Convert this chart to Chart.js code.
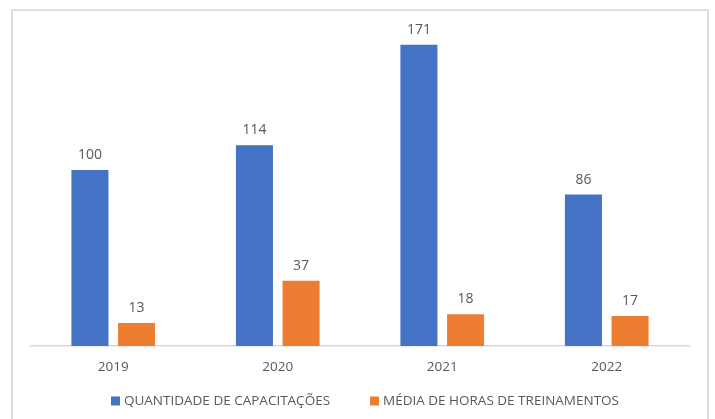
<!DOCTYPE html>
<html><head><meta charset="utf-8">
<script src="https://cdn.jsdelivr.net/npm/chart.js@4.4.1/dist/chart.umd.min.js"></script>
<style>
html,body{margin:0;padding:0;background:#fff;overflow:hidden}
#wrap{position:relative;width:715px;height:419px;overflow:hidden}
#frame{position:absolute;left:11px;top:9px;width:694px;height:440px;border:2px solid #dedede;pointer-events:none}
canvas{position:absolute;left:0;top:0}
</style></head>
<body><div id="wrap"><canvas id="c" width="715" height="419"></canvas><div id="frame"></div></div>
<script>
const categories = ['2019', '2020', '2021', '2022'];
const seriesNames = ['QUANTIDADE DE CAPACITAÇÕES', 'MÉDIA DE HORAS DE TREINAMENTOS'];
const capacitacoes = [100, 114, 171, 86];
const mediaHoras = [13, 37, 18, 17];
const seriesColors = ['#4472C4', '#ED7D31'];

const FONT = '"Open Sans", "Liberation Sans", sans-serif';
const TEXT = '#595959';

const valueLabels = {
  id: 'valueLabels',
  afterDatasetsDraw(chart) {
    const ctx = chart.ctx;
    ctx.save();
    ctx.font = '14px ' + FONT;
    ctx.fillStyle = TEXT;
    ctx.textAlign = 'center';
    ctx.textBaseline = 'alphabetic';
    chart.data.datasets.forEach((ds, i) => {
      chart.getDatasetMeta(i).data.forEach((bar, j) => {
        ctx.fillText(String(ds.data[j]), bar.x, bar.y - 11);
      });
    });
    ctx.restore();
  }
};

const bottomLegend = {
  id: 'bottomLegend',
  afterDraw(chart) {
    const ctx = chart.ctx;
    ctx.save();
    ctx.font = '13.5px ' + FONT;
    const box = 9, gap = 4, itemGap = 40;
    const ds = chart.data.datasets;
    const widths = ds.map(d => ctx.measureText(d.label).width);
    let total = widths.reduce((a, w) => a + box + gap + w, 0) + itemGap * (ds.length - 1);
    let x = 365 - total / 2;
    const y = 401;
    ctx.textBaseline = 'middle';
    ctx.textAlign = 'left';
    ds.forEach((d, i) => {
      ctx.fillStyle = d.backgroundColor;
      ctx.fillRect(x, y - 4.5, box, box);
      ctx.fillStyle = TEXT;
      ctx.fillText(d.label, x + box + gap, y + 0.5);
      x += box + gap + widths[i] + itemGap;
    });
    ctx.restore();
  }
};

new Chart(document.getElementById('c'), {
  type: 'bar',
  data: {
    labels: categories,
    datasets: [
      { label: seriesNames[0], data: capacitacoes, backgroundColor: seriesColors[0], borderWidth: 0,
        categoryPercentage: 0.567, barPercentage: 0.794 },
      { label: seriesNames[1], data: mediaHoras, backgroundColor: seriesColors[1], borderWidth: 0,
        categoryPercentage: 0.567, barPercentage: 0.794 }
    ]
  },
  options: {
    responsive: false,
    animation: false,
    devicePixelRatio: 1,
    layout: { padding: { top: 29, left: 31, right: 26, bottom: 36 } },
    plugins: { legend: { display: false }, tooltip: { enabled: false } },
    scales: {
      x: {
        grid: { display: false, drawTicks: false },
        border: { display: true, color: '#d9d9d9', width: 1.5 },
        ticks: { color: TEXT, font: { family: FONT, size: 13.5 }, padding: 13 },
        afterFit(s) { s.height = 37; }
      },
      y: { display: false, min: 0, max: 180 }
    }
  },
  plugins: [valueLabels, bottomLegend]
});
</script>
</body></html>
